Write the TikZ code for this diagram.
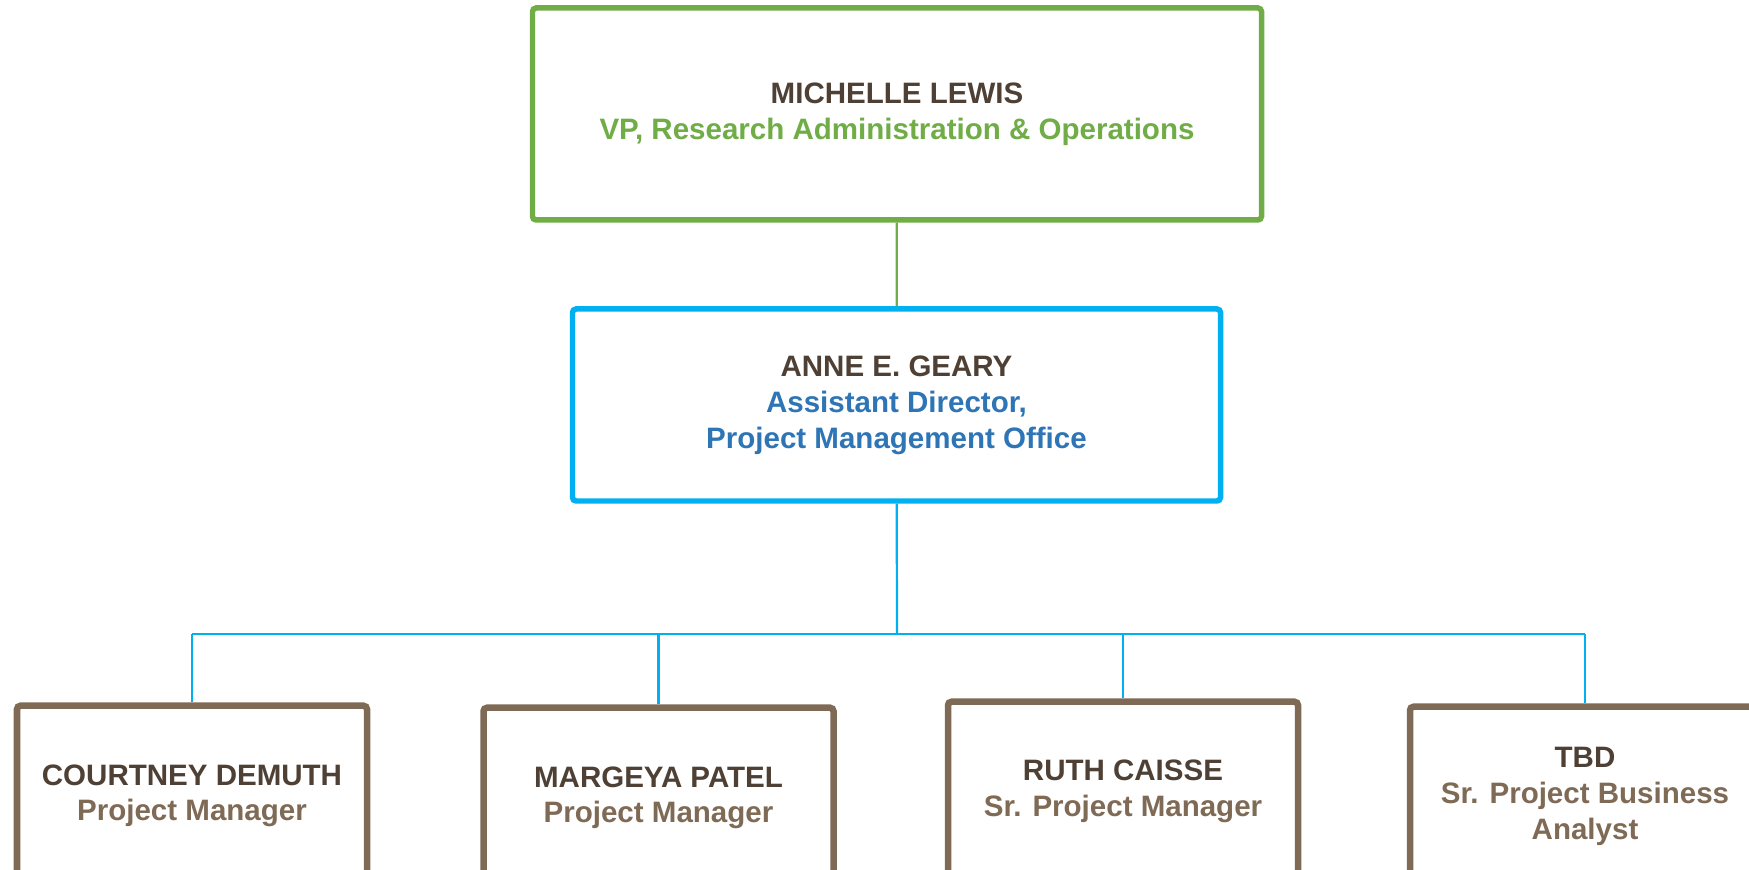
\documentclass[tikz,border=0pt]{standalone}
\usepackage{fontspec}
\setmainfont{Liberation Sans}
\usepackage{xcolor}
\usepackage{tikz}
\usetikzlibrary{positioning,calc}

\definecolor{leafgreen}{HTML}{70AD47}
\definecolor{skyblue}{HTML}{00B0F0}
\definecolor{pmoblue}{HTML}{2E75B6}
\definecolor{taupe}{HTML}{7F6A55}
\definecolor{darkbrown}{HTML}{4E4034}

\begin{document}
\begin{tikzpicture}[
  box/.style={draw, fill=white, rounded corners=1pt, align=center, inner sep=0pt,
    font=\fontsize{8.4}{10.2}\selectfont\bfseries},
  staff/.style={box, draw=taupe, line width=1.85pt, minimum width=3.5cm, minimum height=1.8cm, anchor=north},
  link/.style={line width=0.63pt}
]
\clip (0,0) rectangle (17.49,-8.70);

% Top: VP
\node[box, draw=leafgreen, line width=1.56pt, minimum width=7.29cm, minimum height=2.12cm] (vp) at (8.97,-1.14)
  {\textcolor{darkbrown}{MICHELLE LEWIS}\\\textcolor{leafgreen}{VP, Research Administration \& Operations}};

% Middle: PMO
\node[box, draw=skyblue, line width=1.56pt, minimum width=6.48cm, minimum height=1.92cm] (geary) at (8.965,-4.05)
  {\textcolor{darkbrown}{ANNE E. GEARY}\\\textcolor{pmoblue}{Assistant Director,}\\\textcolor{pmoblue}{Project Management Office}};

% Staff row
\node[staff] (demuth) at (1.92,-7.025) {\textcolor{darkbrown}{COURTNEY DEMUTH}\\\textcolor{taupe}{Project Manager}};
\node[staff] (patel) at (6.585,-7.045) {\textcolor{darkbrown}{MARGEYA PATEL}\\\textcolor{taupe}{Project Manager}};
\node[staff] (caisse) at (11.23,-6.985) {\textcolor{darkbrown}{RUTH CAISSE}\\\textcolor{taupe}{Sr. Project Manager}};
\node[staff] (tbd) at (15.85,-7.035) {\textcolor{darkbrown}{TBD}\\\textcolor{taupe}{Sr. Project Business}\\\textcolor{taupe}{Analyst}};

% Connectors
\coordinate (bus) at (8.97,-6.34);
\draw[link, leafgreen] (vp) -- (geary);
\draw[link, skyblue] (geary) -- (bus);
\draw[link, skyblue] (demuth.north |- bus) -- (tbd.north |- bus);
\foreach \n in {demuth,patel,caisse,tbd}
  \draw[link, skyblue] (bus -| \n.north) -- (\n.north);

\end{tikzpicture}
\end{document}
